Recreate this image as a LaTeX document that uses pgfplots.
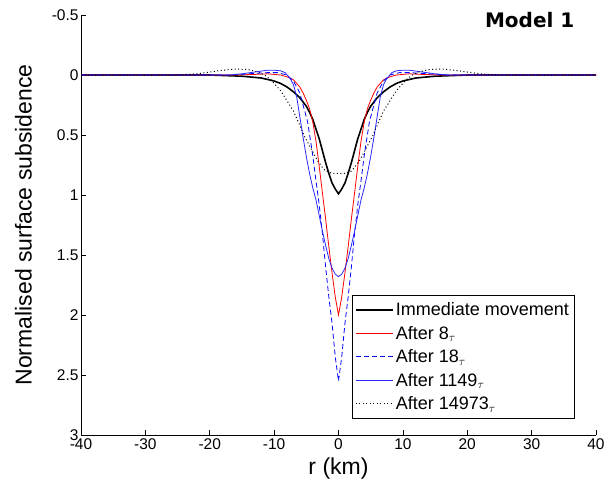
\documentclass[border=0pt]{standalone}
\usepackage{fontspec}
\setmainfont{Liberation Sans}
\newfontfamily\dejavu{DejaVu Sans}
\usepackage{pgfplots}
\pgfplotsset{compat=1.18}
\definecolor{myred}{RGB}{255,0,0}
\definecolor{myblue}{RGB}{0,0,255}
\definecolor{myblue2}{RGB}{40,40,255}
\begin{document}
\begin{tikzpicture}[x=1pt,y=1pt]
\begin{axis}[
  scale only axis, width=515pt, height=420pt,
  xmin=-40, xmax=40, ymin=-0.5, ymax=3, y dir=reverse,
  axis lines=left, axis line style={-, black, line width=0.6pt},
  tick align=inside, major tick length=5pt,
  tick style={black, line width=0.6pt},
  xtick={-40,-30,...,40},
  ytick={-0.5,0,0.5,1,1.5,2,2.5,3},
  yticklabels={-0.5,0,0.5,1,1.5,2,2.5,3},
  /pgf/number format/assume math mode=true,
  ticklabel style={font=\fontsize{15.5}{17}\selectfont},
  yticklabel style={xshift=1pt},
  xticklabel style={yshift=0pt},
  xlabel={r (km)}, ylabel={Normalised surface subsidence},
  label style={font=\fontsize{23}{26}\selectfont},
  xlabel style={yshift=-1pt},
  ylabel style={yshift=13pt},
  clip=false,
  legend cell align=left,
  legend style={at={(0.526,0.333)}, anchor=north west,
    font=\fontsize{18}{20}\selectfont, draw=black, line width=0.6pt,
    row sep=5pt, inner xsep=3pt, inner ysep=5pt,
    /tikz/every even column/.append style={column sep=1pt}},
  legend image code/.code={\draw[#1] (0cm,0cm) -- (1.3cm,0cm);},
]
\addlegendimage{draw=black, line width=1.6pt}
\addlegendentry{Immediate movement}
\addlegendimage{draw=myred, line width=0.9pt}
\addlegendentry{After 8$_\tau$}
\addlegendimage{draw=myblue, line width=0.8pt, dash pattern=on 5pt off 3pt}
\addlegendentry{After 18$_\tau$}
\addlegendimage{draw=myblue2, line width=0.8pt}
\addlegendentry{After 1149$_\tau$}
\addlegendimage{draw=black, line width=1pt, dash pattern=on 1pt off 2.5pt}
\addlegendentry{After 14973$_\tau$}
\addplot[draw=black, line width=1.6pt, forget plot] coordinates {
(-40,0) (-20,0) (-15,0.01) (-12,0.025) (-10,0.05) (-9,0.07) (-8,0.1) (-7,0.14) (-6,0.19) (-5,0.26) (-4.5,0.31) (-4,0.37) (-3.5,0.45) (-3,0.53) (-2.5,0.63) (-2,0.73) (-1.5,0.82) (-1,0.9) (-0.5,0.95) (0,0.99)
(0.5,0.95) (1,0.9) (1.5,0.82) (2,0.73) (2.5,0.63) (3,0.53) (3.5,0.45) (4,0.37) (4.5,0.31) (5,0.26) (6,0.19) (7,0.14) (8,0.1) (9,0.07) (10,0.05) (12,0.025) (15,0.01) (20,0) (40,0)};
\addplot[draw=myred, line width=0.8pt, forget plot] coordinates {
(-40,0) (-16,0) (-13,-0.005) (-11,-0.01) (-9,0) (-8,0.015) (-7,0.04) (-6,0.1) (-5.5,0.15) (-5,0.21) (-4.5,0.28) (-4,0.39) (-3.5,0.55) (-3,0.76) (-2.5,0.98) (-2,1.2) (-1.5,1.43) (-1,1.65) (-0.5,1.85) (0,2.0)
(0.5,1.85) (1,1.65) (1.5,1.43) (2,1.2) (2.5,0.98) (3,0.76) (3.5,0.55) (4,0.39) (4.5,0.28) (5,0.21) (5.5,0.15) (6,0.1) (7,0.04) (8,0.015) (9,0) (11,-0.01) (13,-0.005) (16,0) (40,0)};
\addplot[draw=myblue, line width=0.8pt, dash pattern=on 5pt off 3pt, forget plot] coordinates {
(-40,0) (-17,0) (-14,-0.01) (-11,-0.02) (-9.5,-0.02) (-8,0) (-7,0.05) (-6,0.15) (-5.5,0.25) (-4.8,0.39) (-4,0.67) (-3.5,0.88) (-3,1.08) (-2.5,1.32) (-2,1.6) (-1.5,1.85) (-1,2.07) (-0.5,2.35) (0,2.55)
(0.5,2.35) (1,2.07) (1.5,1.85) (2,1.6) (2.5,1.32) (3,1.08) (3.5,0.88) (4,0.67) (4.8,0.39) (5.5,0.25) (6,0.15) (7,0.05) (8,0) (9.5,-0.02) (11,-0.02) (14,-0.01) (17,0) (40,0)};
\addplot[draw=myblue2, line width=0.8pt, forget plot] coordinates {
(-40,0) (-17,0) (-15,-0.01) (-13,-0.025) (-11,-0.04) (-10,-0.04) (-9,-0.035) (-8.3,-0.02) (-7.5,0.03) (-7,0.08) (-6.5,0.18) (-6,0.35) (-5.5,0.52) (-5,0.68) (-4.5,0.82) (-4,0.94) (-3.5,1.04) (-3,1.17) (-2.5,1.3) (-2,1.42) (-1.5,1.53) (-1,1.61) (-0.5,1.66) (0,1.68)
(0.5,1.66) (1,1.61) (1.5,1.53) (2,1.42) (2.5,1.3) (3,1.17) (3.5,1.04) (4,0.94) (4.5,0.82) (5,0.68) (5.5,0.52) (6,0.35) (6.5,0.18) (7,0.08) (7.5,0.03) (8.3,-0.02) (9,-0.035) (10,-0.04) (11,-0.04) (13,-0.025) (15,-0.01) (17,0) (40,0)};
\addplot[draw=black, line width=1pt, dash pattern=on 1pt off 2.5pt, forget plot] coordinates {
(-40,0) (-25,0) (-22,-0.01) (-20,-0.025) (-18,-0.04) (-16,-0.05) (-14,-0.045) (-12.5,-0.025) (-11.5,0) (-10.5,0.04) (-10,0.07) (-9,0.13) (-8.4,0.18) (-7,0.3) (-6,0.42) (-5.3,0.51) (-4.6,0.58) (-4,0.64) (-3.3,0.71) (-2.5,0.77) (-2,0.8) (-1,0.82) (0,0.82)
(1,0.82) (2,0.8) (2.5,0.77) (3.3,0.71) (4,0.64) (4.6,0.58) (5.3,0.51) (6,0.42) (7,0.3) (8.4,0.18) (9,0.13) (10,0.07) (10.5,0.04) (11.5,0) (12.5,-0.025) (14,-0.045) (16,-0.05) (18,-0.04) (20,-0.025) (22,-0.01) (25,0) (40,0)};
\node[font=\dejavu\bfseries\fontsize{20}{22}\selectfont, anchor=center] at (axis cs:29.7,-0.454) {Model 1};
\end{axis}
\pgfresetboundingbox
\path (-81pt,-53pt) rectangle (528pt,435pt);
\end{tikzpicture}
\end{document}
